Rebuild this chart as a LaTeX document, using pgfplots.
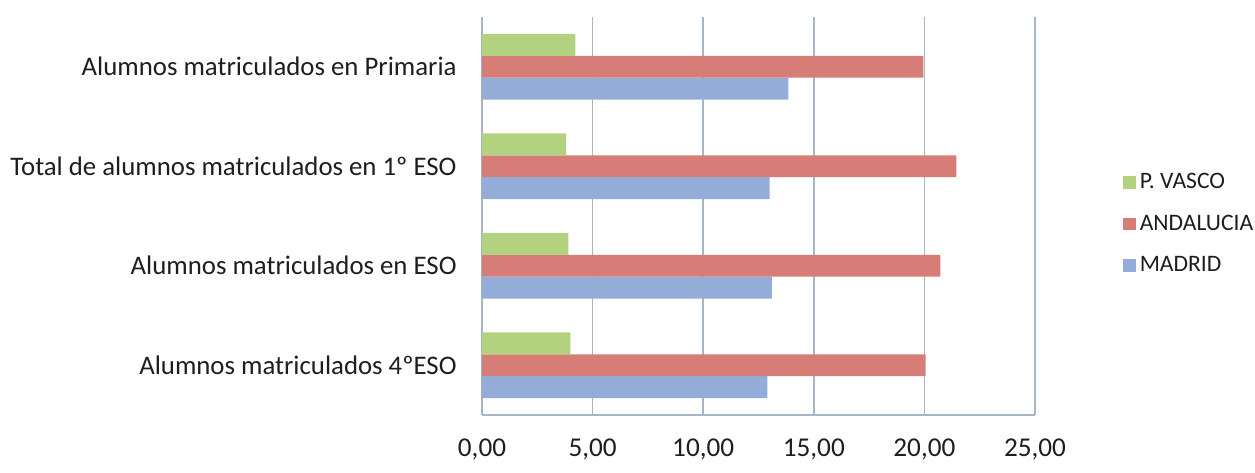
\documentclass[border=0pt]{standalone}
\usepackage{pgfplots}
\pgfplotsset{compat=1.18}
\usepackage{fontspec}
\setmainfont{Carlito}

\definecolor{vasco}{HTML}{B3D27F}
\definecolor{andalucia}{HTML}{D67D77}
\definecolor{madrid}{HTML}{93ACD8}
\definecolor{gridc}{HTML}{A7B6C6}
\definecolor{txt}{HTML}{1E1E1E}

\begin{document}
\begin{tikzpicture}[x=1pt,y=1pt]
\useasboundingbox (0,0) rectangle (627.5,236);
\begin{axis}[
  at={(241pt,28.5pt)}, anchor=south west,
  scale only axis, width=276.5pt, height=199pt,
  xbar, bar width=0.22,
  xmin=0, xmax=25, ymin=-0.5, ymax=3.5,
  xtick={0,5,10,15,20,25},
  xticklabels={{0,00},{5,00},{10,00},{15,00},{20,00},{25,00}},
  ytick={0,1,2,3},
  yticklabels={Alumnos matriculados 4ºESO, Alumnos matriculados en ESO,
               Total de alumnos matriculados en 1º ESO, Alumnos matriculados en Primaria},
  major tick length=0pt,
  axis x line*=bottom, axis y line*=left,
  axis line style={gridc, line width=0.8pt, -},
  xmajorgrids, major grid style={gridc, line width=0.8pt},
  xticklabel style={font=\fontsize{13.6}{16}\selectfont, text=txt, anchor=north, inner sep=0pt, yshift=-11.5pt},
  yticklabel style={font=\fontsize{13.4}{16}\selectfont, text=txt, anchor=east, inner sep=0pt, xshift=-12.5pt},
  reverse legend,
  legend style={at={(1.1475,0.48)}, anchor=west, draw=none, fill=none,
    font=\fontsize{11.8}{14}\selectfont, text=txt, row sep=7.5pt,
    /tikz/every even column/.append style={column sep=0pt}},
  legend cell align=left,
  legend image code/.code={\fill[#1,draw=none] (0pt,-3.2pt) rectangle (6.4pt,3.2pt);},
]
% Madrid (bottom bar of each group)
\addplot[fill=madrid, draw=none, bar shift=-0.22] coordinates {
  (12.90,0) (13.10,1) (13.00,2) (13.85,3)};
% Andalucia (middle bar)
\addplot[fill=andalucia, draw=none, bar shift=0] coordinates {
  (20.05,0) (20.72,1) (21.45,2) (19.95,3)};
% P. Vasco (top bar)
\addplot[fill=vasco, draw=none, bar shift=0.22] coordinates {
  (4.00,0) (3.90,1) (3.80,2) (4.22,3)};
\legend{MADRID, ANDALUCIA, P. VASCO}
\end{axis}
\end{tikzpicture}
\end{document}
